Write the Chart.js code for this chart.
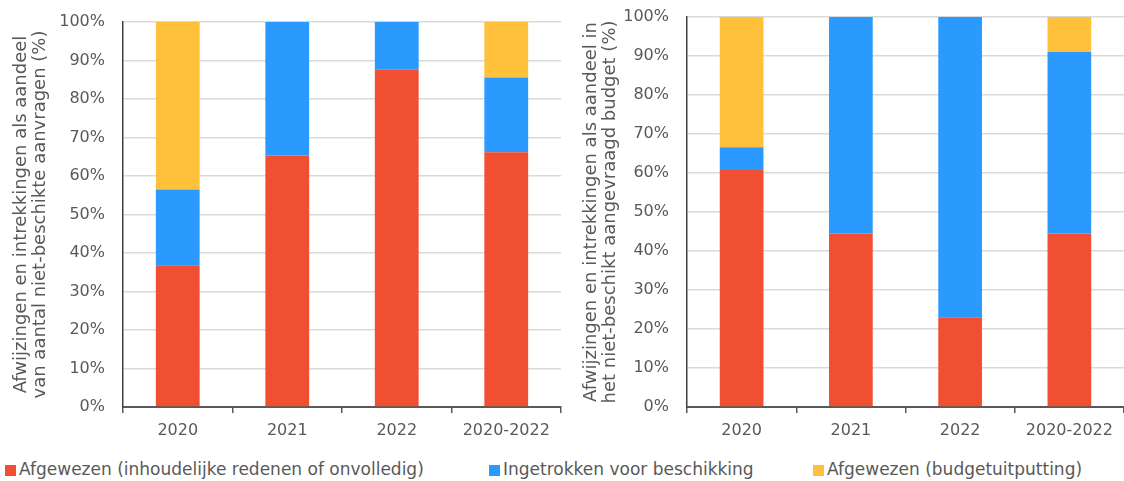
<!DOCTYPE html>
<html>
<head>
<meta charset="utf-8">
<script src="https://cdn.jsdelivr.net/npm/chart.js@4"></script>
<style>
    body { margin: 0; background: #fff; width: 1124px; height: 481px; overflow: hidden; position: relative; font-family: "DejaVu Sans", sans-serif; }
    .box { position: absolute; top: 0; height: 452px; }
    #leftBox { left: 0; width: 563px; }
    #rightBox { left: 563px; width: 561px; }
    #legend { position: absolute; top: 457px; left: 0; width: 1124px; height: 24px; font-size: 17px; color: #595959; }
    .item { position: absolute; top: 0; white-space: nowrap; line-height: 24px; }
    .swatch { display: inline-block; width: 11px; height: 11px; margin-right: 3px; vertical-align: -1px; }
</style>
</head>
<body>
<div class="box" id="leftBox"><canvas id="leftChart"></canvas></div>
<div class="box" id="rightBox"><canvas id="rightChart"></canvas></div>
<div id="legend"></div>
<script>
const categories = ['2020', '2021', '2022', '2020-2022'];
const seriesNames = [
    'Afgewezen (inhoudelijke redenen of onvolledig)',
    'Ingetrokken voor beschikking',
    'Afgewezen (budgetuitputting)'
];
const seriesColors = ['#F04F32', '#2B9AFF', '#FFC03C'];

// share of number of non-granted applications (%)
const countRejected = [36.8, 65.3, 87.6, 66.2];
const countWithdrawn = [19.7, 34.7, 12.4, 19.4];
const countBudget = [43.5, 0, 0, 14.4];

// share of requested budget not granted (%)
const budgetRejected = [60.8, 44.5, 23.0, 44.5];
const budgetWithdrawn = [5.8, 55.5, 77.0, 46.5];
const budgetBudget = [33.4, 0, 0, 9.0];

const leftTitle = ['Afwijzingen en intrekkingen als aandeel', 'van aantal niet-beschikte aanvragen (%)'];
const rightTitle = ['Afwijzingen en intrekkingen als aandeel in', 'het niet-beschikt aangevraagd budget (%)'];

Chart.defaults.font.family = '"DejaVu Sans", sans-serif';
Chart.defaults.color = '#595959';

function makeChart(id, values, title, axisWidth, topPad, rightPad, titlePad) {
    new Chart(document.getElementById(id), {
        type: 'bar',
        data: {
            labels: categories,
            datasets: values.map(function (v, i) {
                return {
                    label: seriesNames[i],
                    data: v,
                    backgroundColor: seriesColors[i],
                    borderWidth: 0,
                    barPercentage: 0.4,
                    categoryPercentage: 1
                };
            })
        },
        options: {
            responsive: true,
            maintainAspectRatio: false,
            animation: false,
            layout: { padding: { top: topPad, right: rightPad, left: 0, bottom: 0 } },
            plugins: {
                legend: { display: false },
                tooltip: { enabled: false }
            },
            scales: {
                x: {
                    stacked: true,
                    grid: {
                        offset: true,
                        drawOnChartArea: false,
                        drawTicks: true,
                        tickLength: 6,
                        color: '#595959',
                        lineWidth: 1.5
                    },
                    border: { color: '#595959', width: 2 },
                    ticks: { font: { size: 16 }, padding: 8, color: '#595959', maxRotation: 0 },
                    afterFit: function (scale) { scale.height = 45; }
                },
                y: {
                    stacked: true,
                    min: 0,
                    max: 100,
                    grid: { color: '#D9D9D9', lineWidth: 1.5, drawTicks: true, tickLength: 14, tickColor: 'rgba(0,0,0,0)' },
                    border: { color: '#404040', width: 1.5 },
                    ticks: {
                        stepSize: 10,
                        font: { size: 16 },
                        padding: 4,
                        color: '#595959',
                        callback: function (v) { return v + '%'; }
                    },
                    title: {
                        display: true,
                        text: title,
                        color: '#595959',
                        font: { size: 18, lineHeight: 1.1 },
                        padding: { top: titlePad, bottom: 0 }
                    },
                    afterFit: function (scale) { scale.width = axisWidth; }
                }
            }
        }
    });
}

makeChart('leftChart', [countRejected, countWithdrawn, countBudget], leftTitle, 123, 22, 2, 11);
makeChart('rightChart', [budgetRejected, budgetWithdrawn, budgetBudget], rightTitle, 124, 17, 0, 18);

const legendPos = [5, 489, 813];
const legend = document.getElementById('legend');
seriesNames.forEach(function (name, i) {
    const item = document.createElement('div');
    item.className = 'item';
    item.style.left = legendPos[i] + 'px';
    item.innerHTML = '<span class="swatch" style="background:' + seriesColors[i] + '"></span>' + name;
    legend.appendChild(item);
});
</script>
</body>
</html>
